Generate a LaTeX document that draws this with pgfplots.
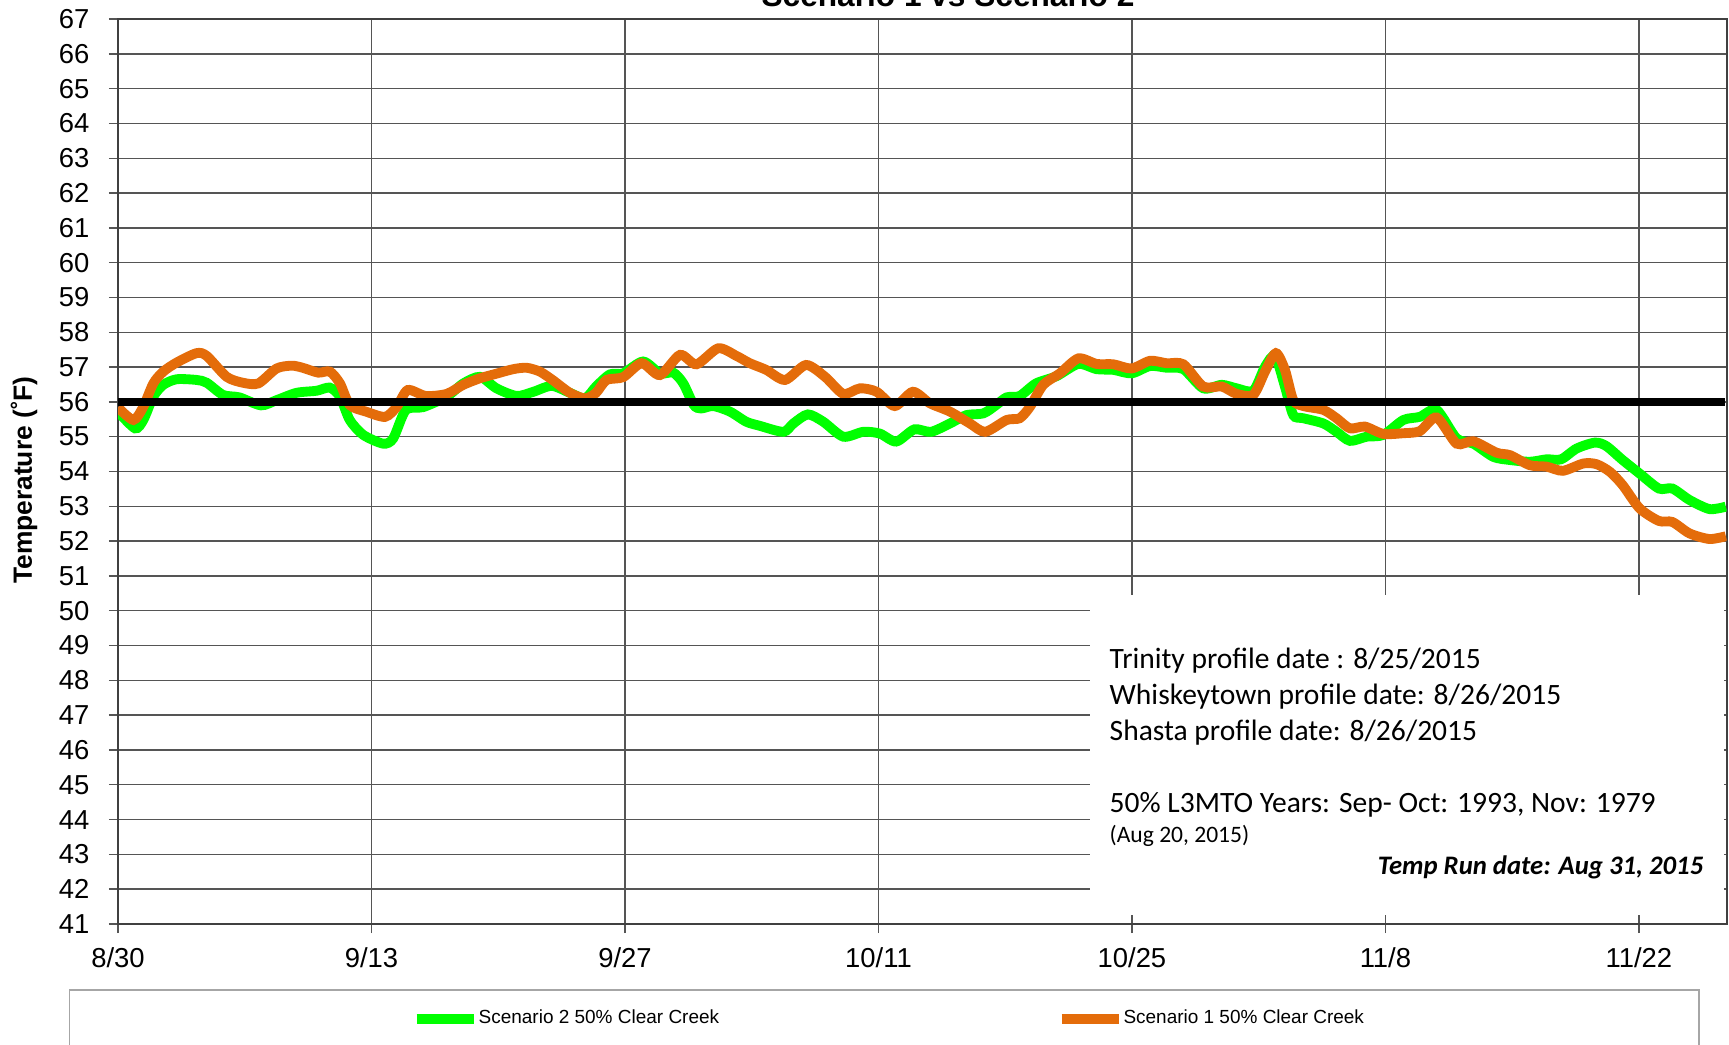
\documentclass[border=0pt]{standalone}
\usepackage{pgfplots}
\pgfplotsset{compat=1.18}
\usepackage{pgfplotstable}
\usepackage{fontspec}
\setmainfont{Liberation Sans}
\newfontfamily\calibri{Carlito}
\definecolor{sgreen}{RGB}{0,255,0}
\definecolor{sorange}{RGB}{228,108,10}
\definecolor{gridc}{RGB}{85,85,85}

\pgfplotstableread{
day temp
0 55.72
0.94 55.24
1.4 55.48
1.95 56.15
2.5 56.49
3.24 56.65
4.34 56.63
4.9 56.55
5.8 56.2
6.7 56.13
7.9 55.9
8.76 56.05
9.86 56.26
10.97 56.32
11.7 56.41
12.26 56.15
12.8 55.48
13.55 55.05
14.65 54.8
15.2 54.95
15.9 55.77
16.86 55.85
18.15 56.15
19.07 56.53
20.0 56.72
20.9 56.39
22.02 56.17
22.94 56.29
23.95 56.46
24.96 56.26
25.79 56.1
26.4 56.44
27.17 56.79
27.9 56.82
29.0 57.16
29.93 56.82
30.67 56.84
31.22 56.53
31.8 55.91
32.2 55.81
32.88 55.88
33.8 55.72
34.7 55.43
35.46 55.31
36.75 55.14
37.3 55.38
38.1 55.64
38.95 55.43
40.06 55.0
41.16 55.14
42.07 55.09
42.98 54.86
43.98 55.21
44.9 55.14
45.95 55.38
46.86 55.62
47.8 55.67
48.5 55.91
49.08 56.13
49.8 56.17
50.7 56.53
51.84 56.74
53.04 57.09
54.05 56.94
54.97 56.92
55.98 56.82
57.0 57.03
57.92 56.98
58.84 56.94
59.94 56.39
60.96 56.49
61.78 56.39
62.7 56.32
63.35 57.01
63.9 57.32
64.45 56.44
64.91 55.62
65.47 55.53
66.57 55.38
67.3 55.14
68.04 54.88
68.96 55.0
69.88 55.05
70.99 55.48
71.9 55.57
72.83 55.77
73.93 54.95
74.85 54.8
75.96 54.42
76.88 54.33
77.98 54.28
78.9 54.35
79.7 54.35
80.56 54.66
81.57 54.83
82.2 54.73
83.1 54.33
84.04 53.94
85.1 53.51
85.85 53.51
86.8 53.18
87.9 52.92
88.8 52.99
}\greendata

\pgfplotstableread{
day temp
0 55.84
0.85 55.48
1.4 55.86
1.95 56.53
2.5 56.87
3.24 57.13
4.34 57.4
4.9 57.32
6.0 56.72
6.9 56.55
7.75 56.53
8.76 56.96
9.6 57.04
10.2 56.98
11.06 56.84
11.7 56.87
12.26 56.53
12.8 55.91
13.7 55.72
14.75 55.57
15.4 55.86
16.0 56.34
17.0 56.17
18.15 56.23
19.07 56.49
20.0 56.68
20.9 56.81
21.83 56.94
22.57 56.98
23.3 56.87
24.0 56.63
24.96 56.26
25.79 56.1
26.4 56.26
26.98 56.63
27.9 56.71
28.92 57.11
29.93 56.77
31.04 57.35
31.95 57.08
33.15 57.54
34.16 57.32
34.9 57.11
35.8 56.92
36.84 56.63
38.0 57.06
39.05 56.72
40.06 56.23
40.98 56.39
41.9 56.29
42.9 55.88
43.9 56.29
44.84 55.96
45.95 55.72
47.05 55.38
47.9 55.14
49.08 55.48
49.8 55.53
50.37 55.86
51.1 56.49
52.02 56.82
53.04 57.25
54.05 57.09
54.97 57.08
55.98 56.96
57.0 57.18
57.92 57.11
58.84 57.08
59.94 56.44
60.96 56.44
61.78 56.23
62.7 56.2
63.35 56.87
63.95 57.4
64.45 56.92
64.91 56.05
65.47 55.88
66.57 55.77
67.3 55.53
68.04 55.24
68.87 55.29
69.88 55.08
70.99 55.1
71.9 55.16
72.83 55.55
73.93 54.8
74.85 54.87
76.14 54.54
76.88 54.47
77.98 54.18
78.9 54.14
79.8 54.02
80.93 54.23
81.66 54.21
82.4 53.99
83.1 53.61
84.04 52.94
85.1 52.58
85.85 52.55
86.8 52.22
87.9 52.06
88.8 52.14
}\orangedata

\begin{document}
\begin{tikzpicture}
\begin{axis}[
  at={(0,0)}, anchor=south west,
  scale only axis, width=160.87mm, height=90.5mm,
  xmin=0, xmax=88.85, ymin=41, ymax=67,
  xtick={0,14,...,84},
  xticklabels={8/30,9/13,9/27,10/11,10/25,11/8,11/22},
  ytick={41,...,67},
  grid=major, major grid style={gridc, line width=0.4pt},
  tick align=outside, major tick length=0.9mm,
  tick style={gridc, line width=0.4pt},
  xtick pos=bottom, ytick pos=left,
  axis line style={black!75, line width=0.6pt},
  tick label style={font=\fontsize{7.8}{9}\selectfont},
  /pgf/number format/assume math mode=true,
  yticklabel style={inner sep=0pt, xshift=-1.9mm},
  xticklabel style={inner sep=0pt, yshift=-1.4mm},
  legend columns=2,
  legend style={draw=none, fill=none, at={(0.1822,-0.105)}, anchor=west,
    inner sep=0pt, column sep=0pt, font=\fontsize{5.4}{6.5}\selectfont,
    nodes={inner sep=0pt},
    /tikz/every even column/.append style={column sep=33.75mm}},
  legend image code/.code={\draw[#1, line width=2.8pt] (0mm,0mm) -- (5.7mm,0mm);},
]
\addplot[sgreen, line width=2.8pt, smooth, tension=0.45] table[x=day, y=temp] {\greendata};
\addlegendentry{Scenario 2 50\% Clear Creek}
\addplot[sorange, line width=2.8pt, smooth, tension=0.45] table[x=day, y=temp] {\orangedata};
\addlegendentry{Scenario 1 50\% Clear Creek}
\addplot[black, line width=2.3pt, forget plot] coordinates {(0,56) (88.75,56)};
\end{axis}
% white annotation box
\fill[white] (97.2mm,0.9mm) rectangle (160.56mm,32.9mm);
\begin{scope}[every node/.style={inner sep=0pt, font=\calibri\fontsize{8.4}{10}\selectfont}]
\node[anchor=base west] at (99.1mm,25.5mm) {Trinity profile date : 8/25/2015};
\node[anchor=base west] at (99.1mm,21.9mm) {Whiskeytown profile date: 8/26/2015};
\node[anchor=base west] at (99.1mm,18.3mm) {Shasta profile date: 8/26/2015};
\node[anchor=base west] at (99.1mm,11.1mm) {50\% L3MTO Years: Sep- Oct: 1993, Nov: 1979};
\node[anchor=base west, font=\calibri\fontsize{6.7}{8}\selectfont] at (99.1mm,8.1mm) {(Aug 20, 2015)};
\node[anchor=base east, font=\calibri\bfseries\itshape\fontsize{7.6}{9.2}\selectfont] at (158.6mm,4.9mm) {Temp Run date: Aug 31, 2015};
\end{scope}
% title (cut at top as in the source)
\node[anchor=base, inner sep=0pt, font=\bfseries\fontsize{9}{11}\selectfont] at (83mm,91.7mm) {Scenario 1 vs Scenario 2};
% y label
\node[rotate=90, inner sep=0pt, font=\bfseries\fontsize{7.5}{9}\selectfont] at (-9.4mm,44.4mm) {Temperature (˚F)};
% legend frame
\draw[gray!70, line width=0.5pt] (-4.85mm,-20mm) rectangle (158.1mm,-6.6mm);
\pgfresetboundingbox
\path[use as bounding box] (-11.8mm,-12.1mm) rectangle (161.1mm,92.4mm);
\end{tikzpicture}
\end{document}
